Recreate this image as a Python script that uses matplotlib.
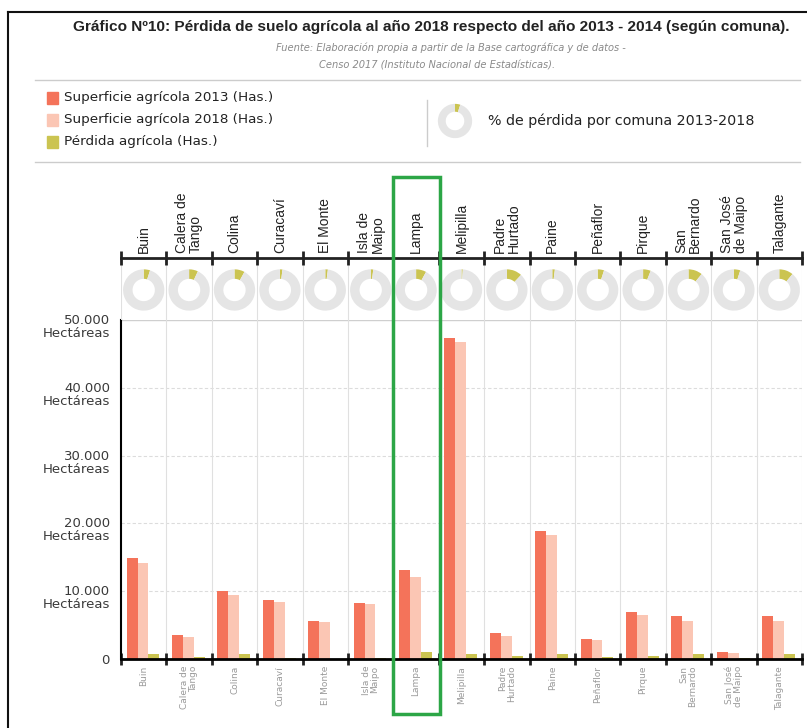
import numpy as np
import matplotlib.pyplot as plt
from matplotlib.patches import Rectangle
from matplotlib.lines import Line2D
import matplotlib.transforms as mtransforms

# datos
comunas = ['Buin', 'Calera de\nTango', 'Colina', 'Curacaví', 'El Monte', 'Isla de\nMaipo',
           'Lampa', 'Melipilla', 'Padre\nHurtado', 'Paine', 'Peñaflor', 'Pirque',
           'San\nBernardo', 'San José\nde Maipo', 'Talagante']
sup_2013 = [14900, 3540, 10070, 8700, 5600, 8300, 13130, 47400, 3880, 18880, 2900, 6880, 6340, 990, 6390]
sup_2018 = [14160, 3290, 9440, 8450, 5500, 8060, 12050, 46800, 3390, 18290, 2750, 6490, 5650, 840, 5650]
perdida = [800, 250, 800, 220, 60, 220, 1080, 690, 440, 690, 300, 440, 690, 100, 690]
pct_perdida = [5, 7, 8, 2, 2, 2, 8, 1, 12, 2, 5, 6, 11, 5, 11]
y_ticks = [0, 10000, 20000, 30000, 40000, 50000]
series = ['Superficie agrícola 2013 (Has.)', 'Superficie agrícola 2018 (Has.)', 'Pérdida agrícola (Has.)']

C13 = '#f4735a'
C18 = '#fbc6b4'
CPER = '#cbc451'
CRING = '#e5e5e5'

W, H = 807, 728
fig = plt.figure(figsize=(W/100, H/100), dpi=100)
fig.patch.set_facecolor('white')

def px_axes(x0, y0, x1, y1):
    # rect in pixel coords (origin top-left)
    return fig.add_axes([x0/W, 1 - y1/H, (x1 - x0)/W, (y1 - y0)/H])

def fline(x0, y0, x1, y1, **kw):
    fig.add_artist(Line2D([x0/W, x1/W], [1 - y0/H, 1 - y1/H], transform=fig.transFigure, **kw))

n = len(comunas)
X0, X1 = 121, 802
colw = (X1 - X0) / n

# ---- main bar chart ----
ax = px_axes(X0, 320, X1, 659)
x = np.arange(n)
bw = 0.24
ax.bar(x + 0.245, sup_2013, bw, color=C13, zorder=3)
ax.bar(x + 0.485, sup_2018, bw, color=C18, zorder=3)
ax.bar(x + 0.725, perdida, bw, color=CPER, zorder=3)
ax.set_xlim(0, n)
ax.set_ylim(0, 50000)
for v in y_ticks[1:-1]:
    ax.axhline(v, color='#dcdcdc', lw=0.8, ls=(0, (3, 2)), zorder=1)
ax.axhline(50000, color='#cfcfcf', lw=1, zorder=1)
for b in range(1, n + 1):
    ax.axvline(b, color='#e0e0e0', lw=0.8, zorder=1)
for s in ['top', 'right']:
    ax.spines[s].set_visible(False)
ax.spines['left'].set_linewidth(1.5)
ax.spines['bottom'].set_linewidth(2)
ax.spines['bottom'].set_zorder(4)
ax.set_xticks(np.arange(n + 1))
ax.set_xticklabels([])
ax.tick_params(axis='x', direction='inout', length=9, width=2, color='#222')
ax.set_yticks(y_ticks)
ylabels = ['0'] + [f'{v:,}'.replace(',', '.') + '\nHectáreas' for v in y_ticks[1:]]
ax.set_yticklabels(ylabels, fontsize=9.5, color='#3a3a3a', linespacing=1.0)
ax.tick_params(axis='y', length=0, pad=8)
for lab in ax.get_yticklabels()[1:]:
    lab.set_transform(lab.get_transform() + mtransforms.ScaledTranslation(0, -4/72, fig.dpi_scale_trans))

for i, c in enumerate(comunas):
    ax.text(i + 0.5, -0.02, c, transform=ax.get_xaxis_transform(), rotation=90,
            ha='center', va='top', multialignment='right', fontsize=6.5, color='#9a9a9a',
            linespacing=0.95)

# ---- donut row ----
axd = px_axes(X0, 260, X1, 320)
axd.set_xlim(0, n)
axd.set_ylim(0, 1)
for b in range(0, n + 1):
    axd.axvline(b, color='#e0e0e0', lw=0.8)
axd.axis('off')
for i, p in enumerate(pct_perdida):
    cx = X0 + (i + 0.5) * colw
    a = px_axes(cx - colw/2, 290 - colw/2, cx + colw/2, 290 + colw/2)
    a.pie([p, 100 - p], colors=[CPER, CRING], startangle=90, counterclock=False,
          radius=1, wedgeprops=dict(width=0.46, edgecolor='none'))
    a.set_xlim(-1.1, 1.1)
    a.set_ylim(-1.1, 1.1)

# ---- top labels ----
axt = px_axes(X0, 170, X1, 258)
axt.set_xlim(0, n)
axt.set_ylim(0, 1)
for s in ['top', 'right', 'left']:
    axt.spines[s].set_visible(False)
axt.spines['bottom'].set_linewidth(2)
axt.spines['bottom'].set_color('#222')
axt.set_xticks(np.arange(n + 1))
axt.set_xticklabels([])
axt.set_yticks([])
axt.tick_params(axis='x', direction='inout', length=10, width=2, color='#222')
axt.patch.set_alpha(0)
for i, c in enumerate(comunas):
    axt.text(i + 0.5, 0.06, c, rotation=90, ha='center', va='bottom', multialignment='left',
             fontsize=10, color='#222', family='Liberation Sans', linespacing=0.95)

# ---- title ----
fig.text(431/W, 1 - 27/H, 'Gráfico Nº10: Pérdida de suelo agrícola al año 2018 respecto del año 2013 - 2014 (según comuna).',
         ha='center', va='center', fontsize=11.1, fontweight='bold', color='#222',
         family='Liberation Sans')
fig.text(451/W, 1 - 48/H, 'Fuente: Elaboración propia a partir de la Base cartográfica y de datos -',
         ha='center', va='center', fontsize=7.1, style='italic', color='#8a8a8a')
fig.text(437/W, 1 - 66/H, 'Censo 2017 (Instituto Nacional de Estadísticas).',
         ha='center', va='center', fontsize=7.1, style='italic', color='#8a8a8a')
fline(35, 80, 800, 80, color='#cccccc', lw=1)
fline(35, 162, 800, 162, color='#cccccc', lw=1)

# ---- legend ----
for k, (lab, col) in enumerate(zip(series, [C13, C18, CPER])):
    yy = 98 + 22 * k
    fig.add_artist(Rectangle((47/W, 1 - (yy + 6)/H), 11/W, 12/H, color=col, transform=fig.transFigure))
    fig.text(64/W, 1 - yy/H, lab, ha='left', va='center', fontsize=9.7, color='#222')
fline(427, 100, 427, 146, color='#cccccc', lw=1)
al = px_axes(437, 103, 473, 139)
al.pie([5, 95], colors=[CPER, CRING], startangle=90, counterclock=False,
       wedgeprops=dict(width=0.46, edgecolor='none'))
al.set_xlim(-1.05, 1.05)
al.set_ylim(-1.05, 1.05)
fig.text(488/W, 1 - 121/H, '% de pérdida por comuna 2013-2018', ha='left', va='center',
         fontsize=10.3, color='#222')

# ---- border and highlight ----
fline(8, 12, 8, 728, color='#111', lw=1.5)
fline(8, 12, 807, 12, color='#111', lw=1.5)
fig.add_artist(Rectangle((393/W, 1 - 714/H), 47/W, 537/H, fill=False, ec='#2ca646', lw=2.5,
                         transform=fig.transFigure))

fig.savefig('out.png', dpi=100)
